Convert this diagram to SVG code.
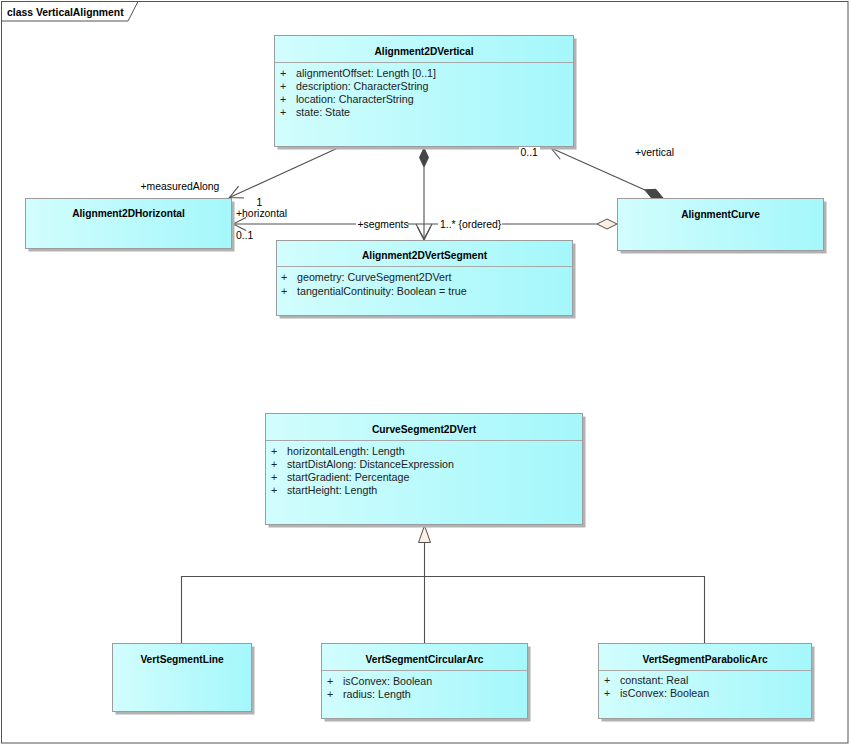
<svg xmlns="http://www.w3.org/2000/svg" width="850" height="745" viewBox="0 0 850 745">
<style>
  text { font-family: "Liberation Sans", Arial, sans-serif; fill: #000; }
  .name { font-size: 10.2px; font-weight: bold; text-anchor: middle; }
  .attr { font-size: 10.7px; fill: #222; }
  .lbl { font-size: 10.4px; }
  .title { font-size: 10.4px; font-weight: bold; }
  .box { fill: url(#cls); stroke: #9c9c9c; stroke-width: 1; }
  .shadow { fill: #b2b2b2; }
  .sep { stroke: #a8a8a8; stroke-width: 1; }
  .conn { fill: none; stroke: #505050; stroke-width: 1.1; }
  .bg { fill: #fff; }
  .filled { fill: #454545; stroke: #454545; stroke-width: 1; }
  .hollow { fill: #fbf0e0; stroke: #505050; stroke-width: 1; }
</style>
<defs>
  <linearGradient id="cls" x1="0" y1="0" x2="1" y2="0">
    <stop offset="0" stop-color="#d2fdfd"/>
    <stop offset="1" stop-color="#a4f7fb"/>
  </linearGradient>
  <marker id="open" viewBox="0 0 16 16" refX="15" refY="8" markerWidth="16" markerHeight="16" markerUnits="userSpaceOnUse" orient="auto">
    <path d="M2,1.5 L15,8 L2,14.5" fill="none" stroke="#505050" stroke-width="1.1"/>
  </marker>
</defs>

<rect x="0" y="0" width="850" height="745" fill="#fff"/>
<g id="frame">
  <rect x="1.5" y="1.5" width="846.5" height="741.5" fill="none" stroke="#555" stroke-width="1"/>
  <path d="M1.5,21 H128 L138,1.5" fill="none" stroke="#555" stroke-width="1"/>
  <text class="title" x="7" y="15.5">class VerticalAlignment</text>
</g>

<g id="connectors">
  <!-- measuredAlong -->
  <path class="conn" d="M340,147 L229.5,197.5" marker-end="url(#open)"/>
  <!-- composition Alignment2DVertical -> Alignment2DVertSegment -->
  <path class="conn" d="M424,167 L424,240" marker-end="url(#open)"/>
  <polygon class="filled" points="424,148 428.5,157.5 424,167 419.5,157.5"/>
  <!-- horizontal / segments line -->
  <path class="conn" d="M597,224 L233,224" marker-end="url(#open)"/>
  <path class="conn" d="M416,224 L424,239 L432,224"/>
  <polygon class="hollow" points="597,224 607,219 617,224 607,229"/>
  <!-- vertical -->
  <path class="conn" d="M645,190 L551,148" marker-end="url(#open)"/>
  <polygon class="filled" points="663,198 655.9,189.3 644.7,189.8 651.9,198.5"/>
  <!-- generalization -->
  <path class="conn" d="M424.5,542 V643 M181.5,643 V576.5 H704.5 V643"/>
  <polygon class="hollow" points="424.5,525.5 430.5,542.5 418.5,542.5"/>
  <!-- labels -->
  <text class="lbl" x="140.5" y="190">+measuredAlong</text>
  <text class="lbl" x="236" y="216.5">+horizontal</text>
  <text class="lbl" x="256.5" y="206">1</text>
  <text class="lbl" x="236" y="239">0..1</text>
  <rect class="bg" x="356" y="218" width="52" height="12"/>
  <text class="lbl" x="357.5" y="228">+segments</text>
  <rect class="bg" x="438" y="218" width="64" height="12"/>
  <text class="lbl" x="440" y="228">1..* {ordered}</text>
  <text class="lbl" x="635" y="155.5">+vertical</text>
</g>

<g id="Alignment2DVertical">
  <rect class="shadow" x="277.5" y="38.5" width="299" height="111"/>
  <rect class="box" x="274.5" y="35.5" width="299" height="111"/>
  <line class="sep" x1="274.5" y1="62.5" x2="573.5" y2="62.5"/>
  <text class="name" x="424" y="54.5">Alignment2DVertical</text>
  <text class="attr" x="280" y="76.5">+</text><text class="attr" x="296" y="76.5">alignmentOffset: Length [0..1]</text>
  <text class="attr" x="280" y="89.5">+</text><text class="attr" x="296" y="89.5">description: CharacterString</text>
  <text class="attr" x="280" y="102.5">+</text><text class="attr" x="296" y="102.5">location: CharacterString</text>
  <text class="attr" x="280" y="115.5">+</text><text class="attr" x="296" y="115.5">state: State</text>
</g>
<rect class="bg" x="519" y="147" width="21" height="11"/>
<text class="lbl" x="520.5" y="155.5">0..1</text>

<g id="Alignment2DHorizontal">
  <rect class="shadow" x="28.5" y="201.5" width="206" height="50"/>
  <rect class="box" x="25.5" y="198.5" width="206" height="50"/>
  <text class="name" x="128.5" y="217">Alignment2DHorizontal</text>
</g>

<g id="AlignmentCurve">
  <rect class="shadow" x="620.5" y="201.5" width="206" height="52"/>
  <rect class="box" x="617.5" y="198.5" width="206" height="52"/>
  <text class="name" x="720.5" y="218">AlignmentCurve</text>
</g>

<g id="Alignment2DVertSegment">
  <rect class="shadow" x="279.5" y="243.5" width="296" height="75"/>
  <rect class="box" x="276.5" y="240.5" width="296" height="75"/>
  <line class="sep" x1="276.5" y1="266.5" x2="572.5" y2="266.5"/>
  <text class="name" x="424.5" y="259">Alignment2DVertSegment</text>
  <text class="attr" x="281" y="281">+</text><text class="attr" x="297" y="281">geometry: CurveSegment2DVert</text>
  <text class="attr" x="281" y="294.5">+</text><text class="attr" x="297" y="294.5">tangentialContinuity: Boolean = true</text>
</g>

<g id="CurveSegment2DVert">
  <rect class="shadow" x="268.5" y="416.5" width="317" height="111"/>
  <rect class="box" x="265.5" y="413.5" width="317" height="111"/>
  <line class="sep" x1="265.5" y1="440.5" x2="582.5" y2="440.5"/>
  <text class="name" x="424" y="433">CurveSegment2DVert</text>
  <text class="attr" x="271" y="454.5">+</text><text class="attr" x="287" y="454.5">horizontalLength: Length</text>
  <text class="attr" x="271" y="467.5">+</text><text class="attr" x="287" y="467.5">startDistAlong: DistanceExpression</text>
  <text class="attr" x="271" y="480.5">+</text><text class="attr" x="287" y="480.5">startGradient: Percentage</text>
  <text class="attr" x="271" y="494">+</text><text class="attr" x="287" y="494">startHeight: Length</text>
</g>

<g id="VertSegmentLine">
  <rect class="shadow" x="115.5" y="646.5" width="139" height="68"/>
  <rect class="box" x="112.5" y="643.5" width="139" height="68"/>
  <text class="name" x="182" y="663">VertSegmentLine</text>
</g>

<g id="VertSegmentCircularArc">
  <rect class="shadow" x="324.5" y="646.5" width="206" height="75"/>
  <rect class="box" x="321.5" y="643.5" width="206" height="75"/>
  <line class="sep" x1="321.5" y1="670.5" x2="527.5" y2="670.5"/>
  <text class="name" x="424.5" y="663">VertSegmentCircularArc</text>
  <text class="attr" x="327" y="684.5">+</text><text class="attr" x="343" y="684.5">isConvex: Boolean</text>
  <text class="attr" x="327" y="697.5">+</text><text class="attr" x="343" y="697.5">radius: Length</text>
</g>

<g id="VertSegmentParabolicArc">
  <rect class="shadow" x="601.5" y="646.5" width="213" height="75"/>
  <rect class="box" x="598.5" y="643.5" width="213" height="75"/>
  <line class="sep" x1="598.5" y1="670.5" x2="811.5" y2="670.5"/>
  <text class="name" x="705" y="663">VertSegmentParabolicArc</text>
  <text class="attr" x="604" y="683.5">+</text><text class="attr" x="620" y="683.5">constant: Real</text>
  <text class="attr" x="604" y="697">+</text><text class="attr" x="620" y="697">isConvex: Boolean</text>
</g>
</svg>
